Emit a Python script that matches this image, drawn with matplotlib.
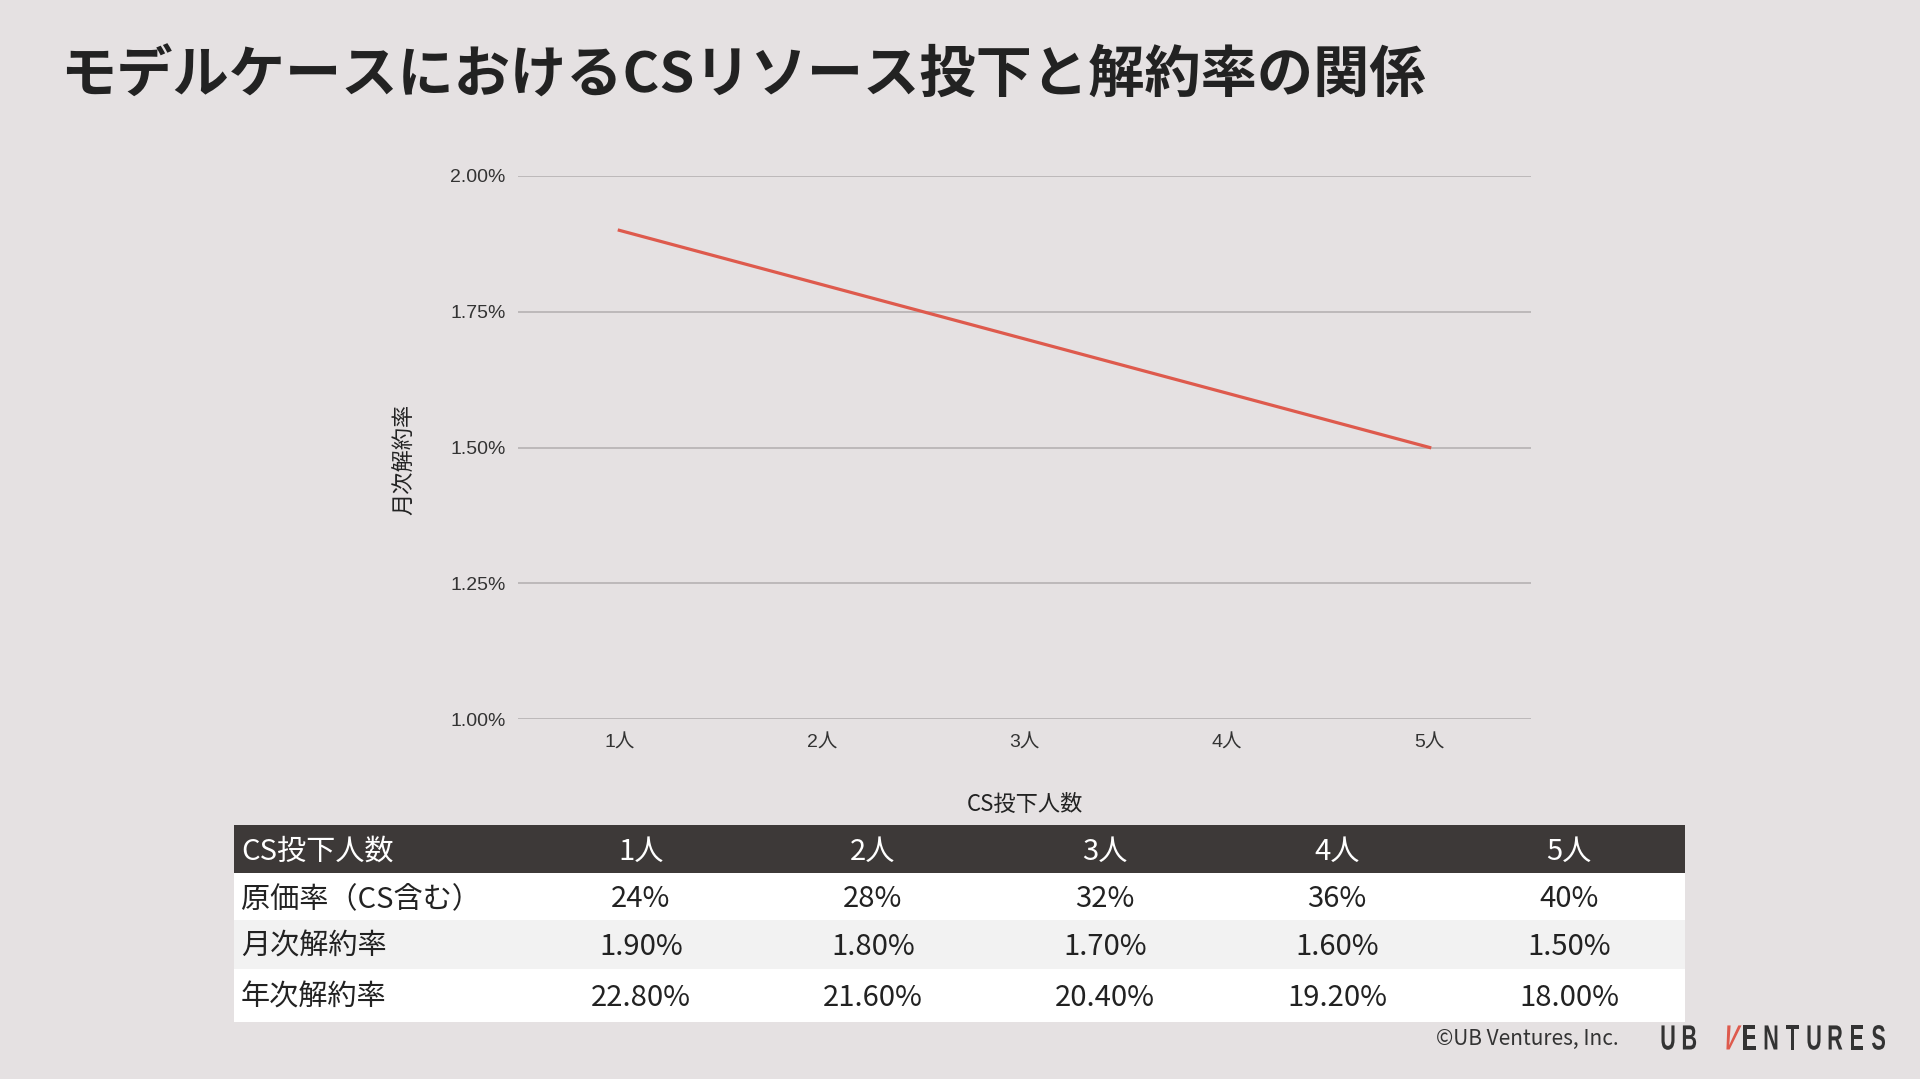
import matplotlib.pyplot as plt
from matplotlib.ticker import FuncFormatter
from matplotlib.textpath import TextPath
from matplotlib.patches import PathPatch
from matplotlib.font_manager import FontProperties
from matplotlib.transforms import Affine2D

plt.rcParams['font.family'] = ['Noto Sans CJK JP', 'DejaVu Sans']

# data
staff = ["1人", "2人", "3人", "4人", "5人"]
monthly_churn = [1.90, 1.80, 1.70, 1.60, 1.50]
cost_ratio = ["24%", "28%", "32%", "36%", "40%"]
monthly_churn_txt = ["1.90%", "1.80%", "1.70%", "1.60%", "1.50%"]
annual_churn_txt = ["22.80%", "21.60%", "20.40%", "19.20%", "18.00%"]
row_labels = ["CS投下人数", "原価率（CS含む）", "月次解約率", "年次解約率"]
y_ticks = [1.00, 1.25, 1.50, 1.75, 2.00]

BG = "#e5e1e2"
RED = "#de5a4d"
DARK = "#3d3938"
TXT = "#222222"

W, H = 1920, 1079
fig = plt.figure(figsize=(W / 100, H / 100), dpi=100, facecolor=BG)

def frac(x0, y0, x1, y1):
    # pixel box -> figure fraction [left, bottom, width, height]
    return [x0 / W, 1 - y1 / H, (x1 - x0) / W, (y1 - y0) / H]

# title
fig.text(60 / W, 1 - 76 / H, "モデルケースにおけるCSリソース投下と解約率の関係",
         fontsize=40.5, fontweight="bold", color=TXT, va="center", ha="left")

# line chart
ax = fig.add_axes(frac(518, 176, 1531, 719))
ax.set_facecolor(BG)
ax.plot(range(len(staff)), monthly_churn, color=RED, lw=2.3)
ax.set_xlim(-0.5, len(staff) - 0.5)
ax.set_ylim(1.0, 2.0)
ax.set_yticks(y_ticks)
ax.yaxis.set_major_formatter(FuncFormatter(lambda v, p: f"{v:.2f}%"))
ax.set_xticks(range(len(staff)))
ax.set_xticklabels(staff)
ax.grid(axis="y", color="#b5b1b2", lw=1.2)
ax.set_axisbelow(True)
for s in ax.spines.values():
    s.set_visible(False)
ax.tick_params(axis="both", length=0, labelsize=14, colors="#333333")
ax.tick_params(axis="y", pad=9)
ax.tick_params(axis="x", pad=11)
for lab in ax.get_yticklabels() + ax.get_xticklabels():
    lab.set_family(['Liberation Sans', 'Noto Sans CJK JP'])
ax.set_xlabel("CS投下人数", fontsize=16, color=TXT, labelpad=30)
ax.set_ylabel("月次解約率", fontsize=16, color=TXT)
ax.yaxis.set_label_coords(-0.101, 0.479)

# table
tab = fig.add_axes(frac(234, 825, 1685, 1022))
tab.set_xlim(0, 1451)
tab.set_ylim(1022, 825)
tab.axis("off")
row_edges = [825, 873, 920, 969, 1022]
row_colors = [DARK, "white", "#f2f2f2", "white"]
first_w, col_w = 291, 232
rows = [staff, cost_ratio, monthly_churn_txt, annual_churn_txt]
for i, (label, vals) in enumerate(zip(row_labels, rows)):
    top, bot = row_edges[i], row_edges[i + 1]
    tab.axhspan(top, bot, color=row_colors[i], lw=0)
    c = "white" if i == 0 else TXT
    yc = (top + bot) / 2 + 2.5
    tab.text(7, yc, label, fontsize=21, color=c, va="center", ha="left")
    for j, v in enumerate(vals):
        tab.text(first_w + col_w * (j + 0.5), yc, v, fontsize=21, color=c,
                 va="center", ha="center")

# footer
fig.text(1619 / W, 1 - 1039 / H, "©UB Ventures, Inc.", fontsize=15, color="#333333",
         ha="right", va="center")

# condensed logo lettering, drawn as glyph paths in a pixel-space overlay
over = fig.add_axes([0, 0, 1, 1], facecolor="none")
over.set_xlim(0, W)
over.set_ylim(0, H)
over.axis("off")
logo_font = FontProperties(family="Liberation Sans", weight="bold")
base_y = H - 1037 - 12.5
for i, ch in enumerate("UBVENTURES"):
    cx = 1668 + 21.5 * i + (17 if i >= 2 else 0)
    tp = TextPath((0, 0), ch, size=35, prop=logo_font)
    ext = tp.get_extents()
    tr = Affine2D().translate(-(ext.x0 + ext.x1) / 2, 0).scale(0.62, 1)
    if i == 2:
        tr = tr + Affine2D().skew_deg(15, 0)
    tr = tr + Affine2D().translate(cx, base_y)
    col = RED if i == 2 else "#333333"
    over.add_patch(PathPatch(tr.transform_path(tp), color=col, lw=0))

fig.savefig("out.png", dpi=100, facecolor=BG)
